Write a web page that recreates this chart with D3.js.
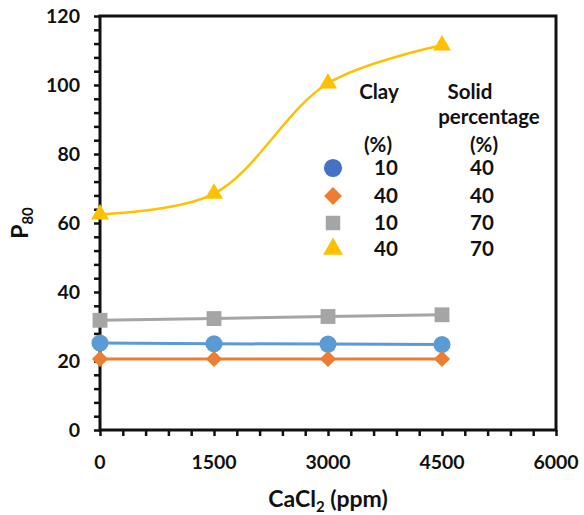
<!DOCTYPE html>
<html>
<head>
<meta charset="utf-8">
<script src="https://cdn.jsdelivr.net/npm/d3@7"></script>
<style>
body { margin: 0; background: #fff; }
text { font-family: Lato, "Open Sans", sans-serif; font-weight: bold; fill: #111; }
</style>
</head>
<body>
<svg width="584" height="515"></svg>
<script>
// chart data
var cacl2 = [0, 1500, 3000, 4500];
var blueVals = [25.2, 25.0, 24.9, 24.8];     // clay 10, solid 40
var orangeVals = [20.6, 20.6, 20.6, 20.6];   // clay 40, solid 40
var grayVals = [31.8, 32.3, 32.9, 33.4];     // clay 10, solid 70
var yellowVals = [62.5, 68.5, 100.5, 111.5]; // clay 40, solid 70
var xTicks = [0, 1500, 3000, 4500, 6000];
var yTicks = [0, 20, 40, 60, 80, 100, 120];
var clayCol = ["10", "40", "10", "40"];
var solidCol = ["40", "40", "70", "70"];

var svg = d3.select("svg");

var plotL = 100, plotR = 556, plotT = 16, plotB = 430;

var x = d3.scaleLinear().domain([0, 6000]).range([plotL, plotR]);
var y = d3.scaleLinear().domain([0, 120]).range([plotB, plotT]);

// minor ticks on both axes
var xMinor = d3.range(0, 6001, 300);
var yMinor = d3.range(0, 121, 4);

svg.append("g")
	.attr("transform", "translate(0," + plotB + ")")
	.call(d3.axisBottom(x).tickValues(xMinor).tickFormat("").tickSize(6).tickSizeOuter(0))
	.call(function(g) {
		g.select(".domain").remove();
		g.selectAll("line").attr("stroke", "#111").attr("stroke-width", 2.5);
	});

svg.append("g")
	.attr("transform", "translate(" + plotL + ",0)")
	.call(d3.axisLeft(y).tickValues(yMinor).tickFormat("").tickSize(6).tickSizeOuter(0))
	.call(function(g) {
		g.select(".domain").remove();
		g.selectAll("line").attr("stroke", "#111").attr("stroke-width", 2.5);
	});

// tick labels
svg.selectAll(".xlab")
	.data(xTicks)
	.enter().append("text")
	.attr("x", function(d) { return x(d); })
	.attr("y", 469)
	.attr("text-anchor", "middle")
	.attr("font-size", 19.5)
	.text(function(d) { return d; });

svg.selectAll(".ylab")
	.data(yTicks)
	.enter().append("text")
	.attr("x", 80)
	.attr("y", function(d) { return y(d) + 7; })
	.attr("text-anchor", "end")
	.attr("font-size", 19.5)
	.text(function(d) { return d; });

// box around the plot
svg.append("rect")
	.attr("x", plotL)
	.attr("y", plotT)
	.attr("width", plotR - plotL)
	.attr("height", plotB - plotT)
	.attr("fill", "none")
	.attr("stroke", "#111")
	.attr("stroke-width", 3);

// axis titles
var xt = svg.append("text")
	.attr("x", x(3000))
	.attr("y", 507)
	.attr("text-anchor", "middle")
	.attr("font-size", 23);
xt.append("tspan").text("CaCl");
xt.append("tspan").attr("font-size", 15).attr("dy", 5).text("2");
xt.append("tspan").attr("dy", -5).text(" (ppm)");

var yt = svg.append("text")
	.attr("transform", "translate(28," + ((plotT + plotB) / 2) + ") rotate(-90)")
	.attr("text-anchor", "middle")
	.attr("font-size", 23);
yt.append("tspan").text("P");
yt.append("tspan").attr("font-size", 15).attr("dy", 5).text("80");

// series
var series = [
	{ vals: grayVals, color: "#A5A5A5", sym: d3.symbolSquare, size: 220, rot: 0, curve: d3.curveLinear, w: 3 },
	{ vals: blueVals, color: "#5B9BD5", sym: d3.symbolCircle, size: 230, rot: 0, curve: d3.curveLinear, w: 3 },
	{ vals: orangeVals, color: "#ED7D31", sym: d3.symbolSquare, size: 130, rot: 45, curve: d3.curveLinear, w: 3 },
	{ vals: yellowVals, color: "#FFC000", sym: d3.symbolTriangle, size: 140, rot: 0, curve: d3.curveCatmullRom.alpha(0.5), w: 2.5 }
];

series.forEach(function(s) {
	var line = d3.line()
		.x(function(d, i) { return x(cacl2[i]); })
		.y(function(d) { return y(d); })
		.curve(s.curve);

	svg.append("path")
		.datum(s.vals)
		.attr("d", line)
		.attr("fill", "none")
		.attr("stroke", s.color)
		.attr("stroke-width", s.w);

	svg.selectAll(null)
		.data(s.vals)
		.enter().append("path")
		.attr("transform", function(d, i) { return "translate(" + x(cacl2[i]) + "," + y(d) + ") rotate(" + s.rot + ")"; })
		.attr("d", d3.symbol().type(s.sym).size(s.size))
		.attr("fill", s.color);
});

// legend
var legend = svg.append("g");
var lfs = 20.5;
legend.append("text").attr("x", 379).attr("y", 99).attr("text-anchor", "middle").attr("font-size", lfs).text("Clay");
legend.append("text").attr("x", 470).attr("y", 99).attr("text-anchor", "middle").attr("font-size", lfs).text("Solid");
legend.append("text").attr("x", 489).attr("y", 124).attr("text-anchor", "middle").attr("font-size", lfs).text("percentage");
legend.append("text").attr("x", 378).attr("y", 152).attr("text-anchor", "middle").attr("font-size", lfs).text("(%)");
legend.append("text").attr("x", 484).attr("y", 152).attr("text-anchor", "middle").attr("font-size", lfs).text("(%)");

var legendColors = ["#4472C4", "#ED7D31", "#A5A5A5", "#FFC000"];
var legendSyms = [d3.symbolCircle, d3.symbolSquare, d3.symbolSquare, d3.symbolTriangle];
var legendRot = [0, 45, 0, 0];
var legendSizes = [260, 160, 210, 170];
var rowY = [168, 196, 223, 249];

legend.selectAll(".lsym")
	.data(rowY)
	.enter().append("path")
	.attr("transform", function(d, i) { return "translate(333," + d + ") rotate(" + legendRot[i] + ")"; })
	.attr("d", function(d, i) { return d3.symbol().type(legendSyms[i]).size(legendSizes[i])(); })
	.attr("fill", function(d, i) { return legendColors[i]; });

legend.selectAll(".lclay")
	.data(clayCol)
	.enter().append("text")
	.attr("x", 386)
	.attr("y", function(d, i) { return rowY[i] + 7; })
	.attr("text-anchor", "middle")
	.attr("font-size", lfs)
	.text(function(d) { return d; });

legend.selectAll(".lsolid")
	.data(solidCol)
	.enter().append("text")
	.attr("x", 482)
	.attr("y", function(d, i) { return rowY[i] + 7; })
	.attr("text-anchor", "middle")
	.attr("font-size", lfs)
	.text(function(d) { return d; });
</script>
</body>
</html>
